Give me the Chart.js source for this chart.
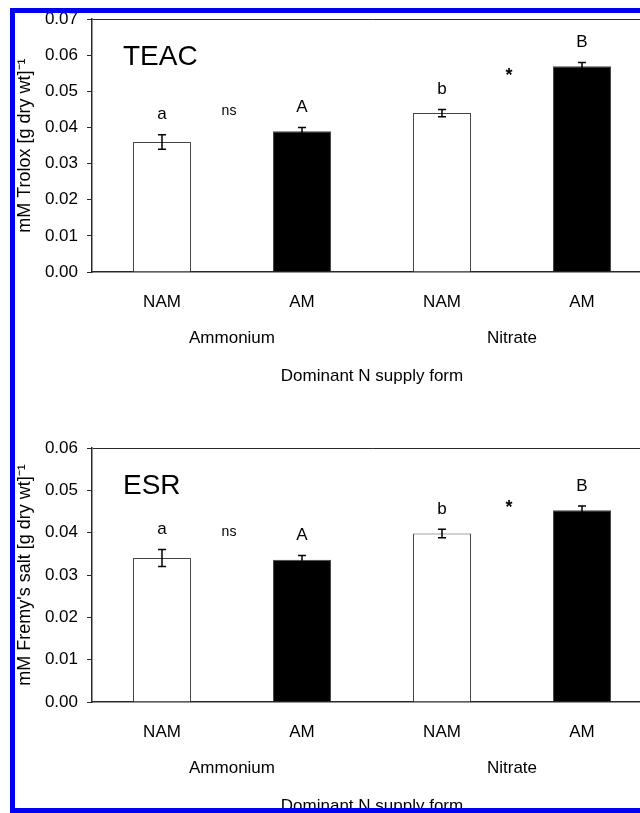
<!DOCTYPE html>
<html>
<head>
<meta charset="utf-8">
<script src="https://cdn.jsdelivr.net/npm/chart.js@4.4.0/dist/chart.umd.min.js"></script>
<style>
  html, body { margin: 0; padding: 0; background: #fff; }
  body { width: 640px; height: 813px; overflow: hidden; position: relative; }
  canvas { position: absolute; left: 0; }
  #teac { top: 0; }
  #esr { top: 420px; }
  .frame { position: absolute; left: 10px; top: 8px; width: 700px; height: 795px; border: 5px solid #0000f4; }
</style>
</head>
<body>
<canvas id="teac" width="652" height="420"></canvas>
<canvas id="esr" width="652" height="430"></canvas>
<div class="frame"></div>
<script>
// categories
const treatments = ['NAM', 'AM', 'NAM', 'AM'];
const nForms = ['Ammonium', 'Nitrate'];
const barFill = ['#ffffff', '#000000', '#ffffff', '#000000'];

// TEAC panel (mM Trolox per g dry wt)
const teacMeans = [0.036, 0.039, 0.044, 0.057];
const teacErrors = [0.002, 0.001, 0.001, 0.001];

// ESR panel (mM Fremy's salt per g dry wt)
const esrMeans = [0.034, 0.0336, 0.0398, 0.0453];
const esrErrors = [0.002, 0.001, 0.001, 0.001];

// significance letters above bars, and the marks between NAM/AM pairs
const groupLetters = ['a', 'A', 'b', 'B'];
const pairMarks = ['ns', '*'];

Chart.defaults.font.family = '"Liberation Sans", Arial, sans-serif';
Chart.defaults.color = '#000';

const axisColor = '#2a2a2a';

const errorBars = {
  id: 'errorBars',
  afterDatasetsDraw(chart) {
    const { ctx } = chart;
    const y = chart.scales.y;
    const ds = chart.data.datasets[0];
    const meta = chart.getDatasetMeta(0);
    ctx.save();
    ctx.strokeStyle = '#000';
    ctx.lineWidth = 1.5;
    meta.data.forEach((bar, i) => {
      const top = y.getPixelForValue(ds.data[i] + ds.errors[i]);
      const bot = y.getPixelForValue(ds.data[i] - ds.errors[i]);
      ctx.beginPath();
      ctx.moveTo(bar.x, top); ctx.lineTo(bar.x, bot);
      ctx.moveTo(bar.x - 4, top); ctx.lineTo(bar.x + 4, top);
      ctx.moveTo(bar.x - 4, bot); ctx.lineTo(bar.x + 4, bot);
      ctx.stroke();
    });
    ctx.restore();
  }
};

function makeChart(id, means, errors, ymax, yTitle, panel, padTop) {
  const labelsPlugin = {
    id: 'labels_' + id,
    afterDraw(chart) {
      const { ctx, chartArea } = chart;
      const y = chart.scales.y;
      const bars = chart.getDatasetMeta(0).data;
      ctx.save();
      ctx.fillStyle = '#000';
      ctx.textAlign = 'center';
      ctx.textBaseline = 'middle';

      // letters
      ctx.font = '17px "Liberation Sans", Arial, sans-serif';
      const letterY = bars.map((bar, i) => y.getPixelForValue(means[i] + errors[i]) - 20);
      bars.forEach((bar, i) => ctx.fillText(groupLetters[i], bar.x, letterY[i]));

      // pair marks
      pairMarks.forEach((mark, p) => {
        const a = 2 * p, b = 2 * p + 1;
        const x = (bars[a].x + bars[b].x) / 2 - 3;
        let yy = (letterY[a] + letterY[b]) / 2;
        if (mark === '*') {
          ctx.font = 'bold 18px "Liberation Sans", Arial, sans-serif';
          yy += 10;
        } else {
          ctx.font = '14px "Liberation Sans", Arial, sans-serif';
        }
        ctx.fillText(mark, x, yy);
      });

      // panel name
      ctx.textAlign = 'left';
      ctx.font = '28px "Liberation Sans", Arial, sans-serif';
      ctx.fillText(panel, chartArea.left + 31, chartArea.top + 38);
      ctx.restore();
    }
  };

  return new Chart(document.getElementById(id), {
    type: 'bar',
    data: {
      labels: treatments,
      datasets: [{
        data: means,
        errors: errors,
        xAxisID: 'x',
        backgroundColor: barFill,
        borderColor: '#444',
        borderWidth: 1,
        barPercentage: 0.414,
        categoryPercentage: 1
      }]
    },
    options: {
      responsive: false,
      animation: false,
      layout: { padding: { top: padTop, left: 0, right: 0, bottom: 0 } },
      plugins: { legend: { display: false }, tooltip: { enabled: false } },
      scales: {
        x: {
          offset: true,
          grid: { display: false, drawTicks: false },
          border: { display: true, color: axisColor, width: 1.5 },
          ticks: { padding: 20, font: { size: 17 } },
          afterFit: s => { s.height = 50; }
        },
        groups: {
          type: 'category',
          labels: nForms,
          position: 'bottom',
          offset: true,
          weight: 1,
          grid: { display: false, drawTicks: false },
          border: { display: false },
          ticks: { padding: 6, font: { size: 17 } },
          title: {
            display: true,
            text: 'Dominant N supply form',
            font: { size: 17 },
            padding: { top: 0, bottom: 33 }
          },
          afterFit: s => { s.height = 98; }
        },
        y: {
          min: 0,
          max: ymax,
          ticks: {
            stepSize: 0.01,
            padding: 9,
            font: { size: 17 },
            callback: v => v.toFixed(2)
          },
          grid: {
            color: c => (c.tick && Math.abs(c.tick.value - ymax) < 1e-9) ? axisColor : 'rgba(0,0,0,0)',
            tickColor: axisColor,
            tickLength: 5
          },
          border: { color: axisColor, width: 1.5 },
          title: {
            display: true,
            text: yTitle,
            font: { size: 18 },
            padding: { top: 14, bottom: 0 }
          },
          afterFit: s => { s.width = 92; }
        }
      }
    },
    plugins: [errorBars, labelsPlugin]
  });
}

makeChart('teac', teacMeans, teacErrors, 0.07, 'mM Trolox [g dry wt]⁻¹', 'TEAC', 16);
makeChart('esr', esrMeans, esrErrors, 0.06, "mM Fremy's salt [g dry wt]⁻¹", 'ESR', 28);
</script>
</body>
</html>
